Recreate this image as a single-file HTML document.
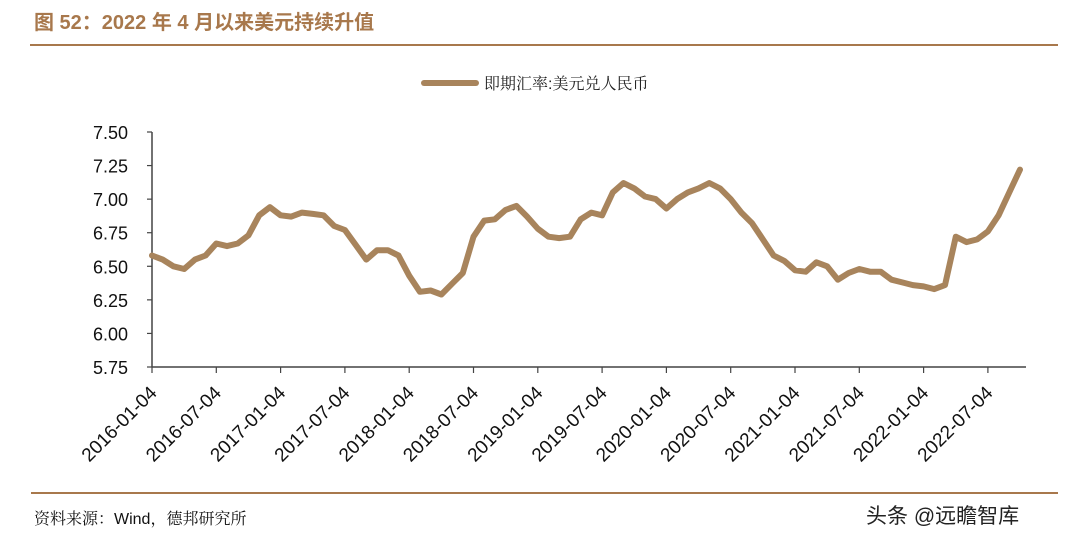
<!DOCTYPE html>
<html><head><meta charset="utf-8"><style>
body{margin:0;width:1082px;height:546px;background:#fff;overflow:hidden;font-family:"Liberation Sans","Noto Sans CJK SC",sans-serif;}
</style></head><body>
<svg width="1082" height="546" xmlns="http://www.w3.org/2000/svg">
<text x="34" y="29" font-size="20" font-weight="bold" fill="#a8784c" font-family="Liberation Sans, Noto Sans CJK SC, sans-serif">图 52：2022 年 4 月以来美元持续升值</text>
<line x1="30" y1="45" x2="1058" y2="45" stroke="#a8784c" stroke-width="2"/>
<g>
<line x1="424" y1="83" x2="476" y2="83" stroke="#a8845c" stroke-width="6" stroke-linecap="round"/>
<text x="484" y="89" font-size="16" fill="#222" font-family="Liberation Sans, Noto Serif CJK SC, sans-serif">即期汇率:美元兑人民币</text>
</g>
<g id="axes"></g>
<g id="plot"></g>
<line x1="31" y1="493" x2="1058" y2="493" stroke="#a8784c" stroke-width="2"/>
<text x="34" y="524" font-size="16" fill="#111" font-family="Liberation Sans, Noto Serif CJK SC, serif">资料来源：Wind，德邦研究所</text>
<text x="866" y="523" font-size="21" fill="#222" font-family="Liberation Sans, Noto Sans CJK SC, sans-serif">头条 @远瞻智库</text>
</svg>
<script>
const yTicks=[7.50,7.25,7.00,6.75,6.50,6.25,6.00,5.75];
const xTickLabels=["2016-01-04","2016-07-04","2017-01-04","2017-07-04","2018-01-04","2018-07-04","2019-01-04","2019-07-04","2020-01-04","2020-07-04","2021-01-04","2021-07-04","2022-01-04","2022-07-04"];
const rates=[6.58,6.55,6.50,6.48,6.55,6.58,6.67,6.65,6.67,6.73,6.88,6.94,
6.88,6.87,6.90,6.89,6.88,6.80,6.77,6.66,6.55,6.62,6.62,6.58,
6.43,6.31,6.32,6.29,6.37,6.45,6.72,6.84,6.85,6.92,6.95,6.87,
6.78,6.72,6.71,6.72,6.85,6.90,6.88,7.05,7.12,7.08,7.02,7.00,
6.93,7.00,7.05,7.08,7.12,7.08,7.00,6.90,6.82,6.70,6.58,6.54,
6.47,6.46,6.53,6.50,6.40,6.45,6.48,6.46,6.46,6.40,6.38,6.36,
6.35,6.33,6.36,6.72,6.68,6.70,6.76,6.88,7.05,7.22];
const NS="http://www.w3.org/2000/svg";
const x0=152,monthW=64.3/6,yTop=132,yBot=367,vMin=5.75,vMax=7.5;
const xs=m=>x0+m*monthW;
const ys=v=>yBot-(v-vMin)/(vMax-vMin)*(yBot-yTop);
const axes=document.getElementById('axes'),plot=document.getElementById('plot');
function mk(t,a,p){const e=document.createElementNS(NS,t);for(const k in a)e.setAttribute(k,a[k]);p.appendChild(e);return e;}
let e=mk('line',{x1:x0,y1:yTop,x2:x0,y2:yBot,stroke:'#444','stroke-width':1.5},axes);


e=mk('line',{x1:x0,y1:yBot,x2:1026,y2:yBot,stroke:'#444','stroke-width':1.5},axes);


yTicks.forEach(v=>{
 const y=ys(v);
 let t=mk('line',{x1:x0-5,y1:y,x2:x0,y2:y,stroke:'#444','stroke-width':1.2},axes);
 
 
 const l=mk('text',{x:128,y:y+7,'font-size':18,'text-anchor':'end',fill:'#111'},axes);
 l.textContent=v.toFixed(2);
 
 
});
xTickLabels.forEach((s,i)=>{
 const x=xs(i*6);
 let t=mk('line',{x1:x,y1:yBot,x2:x,y2:yBot+6,stroke:'#444','stroke-width':1.2},axes);
 
 
 const ax=x+6,ay=yBot+27;
 const l=mk('text',{x:ax,y:ay,'font-size':19,'text-anchor':'end',fill:'#111',transform:`rotate(-45 ${ax} ${ay})`},axes);
 l.textContent=s;
 
 
});
const d=rates.map((v,i)=>(i?'L':'M')+xs(i).toFixed(1)+' '+ys(v).toFixed(1)).join(' ');
const p=mk('path',{d:d,fill:'none',stroke:'#a8845c','stroke-width':6,'stroke-linejoin':'round','stroke-linecap':'round'},plot);


</script>
</body></html>
